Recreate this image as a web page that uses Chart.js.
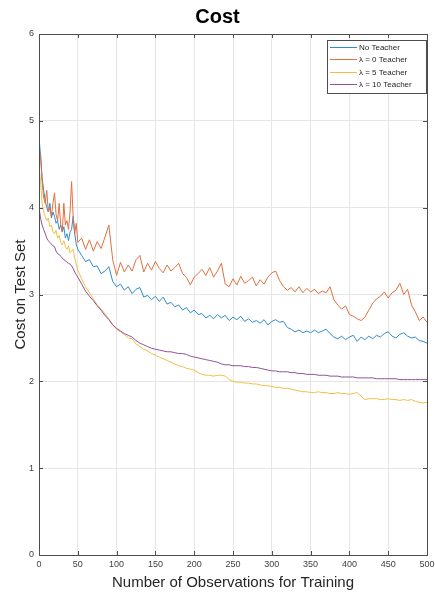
<!DOCTYPE html>
<html>
<head>
<meta charset="utf-8">
<script src="https://cdn.jsdelivr.net/npm/chart.js@4"></script>
<style>
  html, body { margin: 0; padding: 0; background: #fff; }
  #wrap { position: absolute; left: 0; top: 0; width: 435px; height: 594px; }
</style>
</head>
<body>
<div id="wrap"><canvas id="cost" width="435" height="594"></canvas></div>
<script>
// x positions (number of observations)
var obs = [0,2,4,6,8,10,12,14,16,18,20,22,24,26,28,30,32,34,36,38,40,42,44,46,48,50,
  55,60,65,70,75,80,85,90,95,100,105,110,115,120,125,130,135,140,145,150,155,160,165,170,175,180,185,190,195,200,
  205,210,215,220,225,230,235,240,245,250,255,260,265,270,275,280,285,290,295,300,
  305,310,315,320,325,330,335,340,345,350,355,360,365,370,375,380,385,390,395,400,
  405,410,415,420,425,430,435,440,445,450,455,460,465,470,475,480,485,490,495,500];

var seriesLabels = ['No Teacher', '\u03bb = 0 Teacher', '\u03bb = 5 Teacher', '\u03bb = 10 Teacher'];

var noTeacher = [4.81,4.6,4.35,4.2,4.08,4.0,3.95,4.05,3.88,3.95,3.9,3.82,3.85,3.75,3.8,3.72,3.78,3.65,3.7,3.62,3.72,3.75,3.9,3.7,3.58,3.52,
  3.45,3.38,3.4,3.32,3.33,3.24,3.27,3.32,3.15,3.09,3.12,3.05,3.09,3.01,3.06,3.08,2.97,2.99,2.94,2.98,2.92,2.97,2.89,2.91,2.86,2.88,2.82,2.85,2.79,2.82,
  2.77,2.78,2.73,2.76,2.72,2.77,2.73,2.76,2.7,2.74,2.71,2.75,2.69,2.72,2.68,2.7,2.67,2.71,2.65,2.69,
  2.71,2.68,2.69,2.62,2.6,2.57,2.59,2.56,2.58,2.56,2.59,2.56,2.58,2.6,2.55,2.51,2.49,2.52,2.48,2.51,
  2.53,2.46,2.51,2.48,2.52,2.49,2.53,2.51,2.55,2.57,2.52,2.5,2.54,2.56,2.52,2.5,2.51,2.47,2.46,2.44];

var lambda0 = [4.55,4.62,4.3,4.12,4.05,4.2,3.95,4.0,3.9,4.05,4.17,3.92,3.85,4.05,3.8,3.72,4.05,3.8,3.85,3.75,3.95,4.3,3.9,3.7,3.82,3.6,
  3.65,3.52,3.63,3.5,3.61,3.53,3.66,3.8,3.4,3.22,3.37,3.26,3.34,3.27,3.4,3.45,3.26,3.36,3.28,3.38,3.3,3.25,3.34,3.27,3.31,3.36,3.24,3.2,3.11,3.2,
  3.24,3.29,3.22,3.31,3.2,3.27,3.36,3.12,3.09,3.18,3.11,3.21,3.13,3.16,3.2,3.1,3.17,3.12,3.2,3.25,
  3.27,3.16,3.09,3.05,3.08,3.03,3.09,3.02,3.07,3.03,3.06,3.01,3.04,3.02,3.09,2.94,2.88,2.83,2.87,2.77,
  2.75,2.72,2.7,2.74,2.82,2.9,2.95,2.98,3.03,2.96,3.02,3.05,3.13,3.0,3.06,2.88,2.8,2.7,2.74,2.68];

var lambda5 = [4.45,4.3,4.05,3.95,3.9,3.85,3.88,3.78,3.8,3.72,3.7,3.74,3.65,3.68,3.6,3.57,3.62,3.55,3.52,3.56,3.48,3.5,3.52,3.42,3.35,3.28,
  3.18,3.09,3.02,2.95,2.88,2.83,2.78,2.72,2.65,2.6,2.57,2.54,2.5,2.49,2.43,2.4,2.37,2.35,2.32,2.3,2.28,2.26,2.24,2.22,2.2,2.18,2.17,2.15,2.14,2.13,
  2.1,2.08,2.07,2.07,2.06,2.07,2.07,2.06,2.02,2.0,1.99,1.99,1.98,1.98,1.97,1.97,1.96,1.95,1.95,1.94,
  1.93,1.93,1.92,1.92,1.91,1.9,1.89,1.88,1.88,1.87,1.87,1.88,1.87,1.87,1.86,1.86,1.87,1.86,1.86,1.85,
  1.86,1.87,1.83,1.79,1.8,1.8,1.8,1.79,1.79,1.8,1.79,1.79,1.78,1.79,1.78,1.79,1.77,1.76,1.75,1.76];

var lambda10 = [4.0,3.88,3.8,3.75,3.7,3.65,3.62,3.6,3.58,3.56,3.55,3.5,3.47,3.46,3.44,3.42,3.4,3.39,3.37,3.36,3.35,3.33,3.3,3.26,3.23,3.2,
  3.12,3.04,2.98,2.93,2.87,2.82,2.76,2.71,2.65,2.61,2.58,2.55,2.53,2.51,2.47,2.44,2.42,2.4,2.38,2.37,2.36,2.35,2.34,2.34,2.33,2.32,2.32,2.31,2.29,2.28,
  2.27,2.26,2.25,2.24,2.23,2.22,2.2,2.19,2.19,2.18,2.18,2.18,2.17,2.17,2.16,2.16,2.15,2.14,2.13,2.12,
  2.12,2.11,2.11,2.11,2.1,2.1,2.09,2.09,2.08,2.08,2.08,2.07,2.07,2.07,2.06,2.06,2.06,2.05,2.05,2.05,
  2.05,2.04,2.04,2.04,2.04,2.04,2.03,2.03,2.03,2.03,2.03,2.03,2.02,2.02,2.02,2.02,2.02,2.02,2.02,2.02];

var colors = ['#2F8BCB', '#E0703F', '#F0BE45', '#915099'];
var FONT = '"Liberation Sans", Arial, sans-serif';

function toPoints(vals) {
  return obs.map(function (x, i) { return { x: x, y: vals[i] }; });
}

// box around the axes + inward tick marks, matlab style
var boxPlugin = {
  id: 'box',
  afterDatasetsDraw: function (chart) {
    var ctx = chart.ctx, a = chart.chartArea;
    var xs = chart.scales.x, ys = chart.scales.y;
    ctx.save();
    ctx.strokeStyle = '#4d4d4d';
    ctx.lineWidth = 1;
    ctx.beginPath();
    xs.ticks.forEach(function (t) {
      var px = Math.round(xs.getPixelForValue(t.value)) + 0.5;
      ctx.moveTo(px, a.bottom); ctx.lineTo(px, a.bottom - 4);
      ctx.moveTo(px, a.top); ctx.lineTo(px, a.top + 4);
    });
    ys.ticks.forEach(function (t) {
      var py = Math.round(ys.getPixelForValue(t.value)) + 0.5;
      ctx.moveTo(a.left, py); ctx.lineTo(a.left + 4, py);
      ctx.moveTo(a.right, py); ctx.lineTo(a.right - 4, py);
    });
    ctx.stroke();
    ctx.strokeRect(Math.round(a.left) + 0.5, Math.round(a.top) + 0.5,
      Math.round(a.right - a.left), Math.round(a.bottom - a.top));
    ctx.restore();
  }
};

// legend box in the upper right corner
var legendPlugin = {
  id: 'innerLegend',
  afterDraw: function (chart) {
    var ctx = chart.ctx, a = chart.chartArea;
    var bx = Math.round(a.right) - 100, by = Math.round(a.top) + 6, bw = 99, bh = 53;
    ctx.save();
    ctx.fillStyle = '#fff';
    ctx.fillRect(bx, by, bw, bh);
    ctx.strokeStyle = '#4d4d4d';
    ctx.lineWidth = 1;
    ctx.strokeRect(bx + 0.5, by + 0.5, bw, bh);
    ctx.font = '8px ' + FONT;
    ctx.textBaseline = 'middle';
    chart.data.datasets.forEach(function (ds, i) {
      var y = Math.round(by + 7 + i * 12.3) + 0.5;
      ctx.strokeStyle = colors[i];
      ctx.beginPath();
      ctx.moveTo(bx + 3, y); ctx.lineTo(bx + 30, y);
      ctx.stroke();
      ctx.fillStyle = '#262626';
      ctx.fillText(ds.label, bx + 32, y);
    });
    ctx.restore();
  }
};

var chartData = {
  datasets: [
    { label: seriesLabels[0], data: toPoints(noTeacher), borderColor: colors[0], order: 4 },
    { label: seriesLabels[1], data: toPoints(lambda0), borderColor: colors[1], order: 3 },
    { label: seriesLabels[2], data: toPoints(lambda5), borderColor: colors[2], order: 2 },
    { label: seriesLabels[3], data: toPoints(lambda10), borderColor: colors[3], order: 1 }
  ]
};
chartData.datasets.forEach(function (ds) {
  ds.borderWidth = 1;
  ds.pointRadius = 0;
  ds.tension = 0;
  ds.fill = false;
});

var chart = new Chart(document.getElementById('cost').getContext('2d'), {
  type: 'line',
  data: chartData,
  options: {
    responsive: false,
    animation: false,
    layout: { padding: { left: 0, right: 0, top: 0, bottom: 0 } },
    plugins: {
      legend: { display: false },
      tooltip: { enabled: false },
      title: {
        display: true,
        text: 'Cost',
        color: '#000',
        font: { family: FONT, size: 20, weight: 'bold' },
        padding: { top: 5, bottom: 5 }
      }
    },
    scales: {
      x: {
        type: 'linear',
        min: 0, max: 500,
        afterFit: function (s) { s.height = 39; s.paddingRight = 8; s.paddingLeft = 0; },
        ticks: { stepSize: 50, color: '#404040', font: { family: FONT, size: 9 }, padding: 4, maxRotation: 0 },
        grid: { color: '#e6e6e6', drawTicks: false },
        border: { display: false },
        title: {
          display: true,
          text: 'Number of Observations for Training',
          color: '#262626',
          font: { family: FONT, size: 15 },
          padding: { top: 0, bottom: 2 }
        }
      },
      y: {
        min: 0, max: 6,
        afterFit: function (s) { s.width = 39; },
        ticks: { stepSize: 1, color: '#404040', font: { family: FONT, size: 9 }, padding: 5 },
        grid: { color: '#e6e6e6', drawTicks: false },
        border: { display: false },
        title: {
          display: true,
          text: 'Cost on Test Set',
          color: '#262626',
          font: { family: FONT, size: 15 },
          padding: { top: 12, bottom: 0 }
        }
      }
    }
  },
  plugins: [boxPlugin, legendPlugin]
});
</script>
</body>
</html>
